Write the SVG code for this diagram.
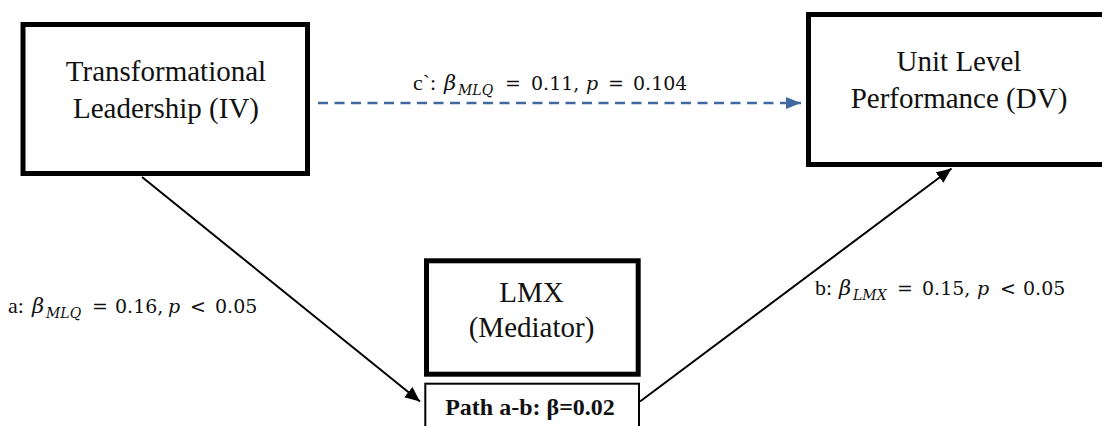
<svg xmlns="http://www.w3.org/2000/svg" width="1102" height="426" viewBox="0 0 1102 426">
  <style>
    .box { fill: #ffffff; stroke: #000000; stroke-width: 5; }
    .thin { fill: #ffffff; stroke: #000000; stroke-width: 2; }
    .node { font-family: "Liberation Serif", "Times New Roman", serif; font-size: 29px; fill: #111111; text-anchor: middle; }
    .bold { font-family: "Liberation Serif", "Times New Roman", serif; font-size: 24px; font-weight: bold; fill: #111111; text-anchor: middle; }
    .pre { font-family: "Liberation Serif", "Times New Roman", serif; font-size: 22px; fill: #111111; }
    .math { font-family: "DejaVu Serif", serif; font-size: 19px; fill: #111111; }
    .greek { font-family: "DejaVu Serif", serif; font-size: 21px; font-style: italic; fill: #111111; }
    .it { font-style: italic; }
    .sub { font-family: "DejaVu Serif", serif; font-size: 14px; font-style: italic; fill: #111111; }
    .solid { fill: none; stroke: #000000; stroke-width: 2; }
    .dash { fill: none; stroke: #41699f; stroke-width: 2.5; stroke-dasharray: 10 6.5; }
  </style>
  <defs>
    <marker id="arrowBlack" markerUnits="userSpaceOnUse" markerWidth="16" markerHeight="14" refX="15" refY="6.5" orient="auto">
      <path d="M0,0 L15,6.5 L0,13 z" fill="#000000"/>
    </marker>
    <marker id="arrowBlue" markerUnits="userSpaceOnUse" markerWidth="16" markerHeight="14" refX="15" refY="6" orient="auto">
      <path d="M0,0 L15,6 L0,12 z" fill="#41699f"/>
    </marker>
  </defs>

  <rect width="1102" height="426" fill="#ffffff"/>

  <!-- connectors -->
  <g id="connectors">
    <line class="dash" x1="318" y1="103" x2="801" y2="103" marker-end="url(#arrowBlue)"/>
    <line class="solid" x1="142" y1="177" x2="420" y2="401.5" marker-end="url(#arrowBlack)"/>
    <line class="solid" x1="640" y1="401.5" x2="951.5" y2="168.5" marker-end="url(#arrowBlack)"/>
  </g>

  <!-- path labels -->
  <g id="label-c">
    <text class="pre" x="413" y="90">c`:</text>
    <text class="greek" x="444" y="90">β</text>
    <text class="sub" x="458" y="95">MLQ</text>
    <text class="math" x="505" y="90">=</text>
    <text class="math" x="531" y="90">0.11,</text>
    <text class="math it" x="586" y="90">p</text>
    <text class="math" x="608" y="90">=</text>
    <text class="math" x="633" y="90">0.104</text>
  </g>
  <g id="label-a">
    <text class="pre" x="8" y="313">a:</text>
    <text class="greek" x="32" y="313">β</text>
    <text class="sub" x="46" y="318">MLQ</text>
    <text class="math" x="92" y="313">=</text>
    <text class="math" x="115" y="313">0.16,</text>
    <text class="math it" x="168" y="313">p</text>
    <text class="math" x="190" y="313">&lt;</text>
    <text class="math" x="215" y="313">0.05</text>
  </g>
  <g id="label-b">
    <text class="pre" x="815" y="295">b:</text>
    <text class="greek" x="839" y="295">β</text>
    <text class="sub" x="853" y="300">LMX</text>
    <text class="math" x="897" y="295">=</text>
    <text class="math" x="922" y="295">0.15,</text>
    <text class="math it" x="977" y="295">p</text>
    <text class="math" x="1000" y="295">&lt;</text>
    <text class="math" x="1023" y="295">0.05</text>
  </g>

  <!-- nodes -->
  <g id="node-iv">
    <rect class="box" x="23" y="24.5" width="284.5" height="149"/>
    <text class="node" x="166" y="81">Transformational</text>
    <text class="node" x="166" y="118">Leadership (IV)</text>
  </g>
  <g id="node-dv">
    <rect class="box" x="808.5" y="14.5" width="320" height="150"/>
    <text class="node" x="959" y="71">Unit Level</text>
    <text class="node" x="959" y="108">Performance (DV)</text>
  </g>
  <g id="node-mediator">
    <rect class="box" x="426.5" y="260.8" width="211.7" height="113.4"/>
    <text class="node" x="531.5" y="301.5">LMX</text>
    <text class="node" x="531.5" y="336.5">(Mediator)</text>
  </g>
  <g id="node-indirect">
    <rect class="thin" x="425.3" y="383.7" width="213.7" height="60"/>
    <text class="bold" x="530" y="415">Path a-b: β=0.02</text>
  </g>
</svg>
